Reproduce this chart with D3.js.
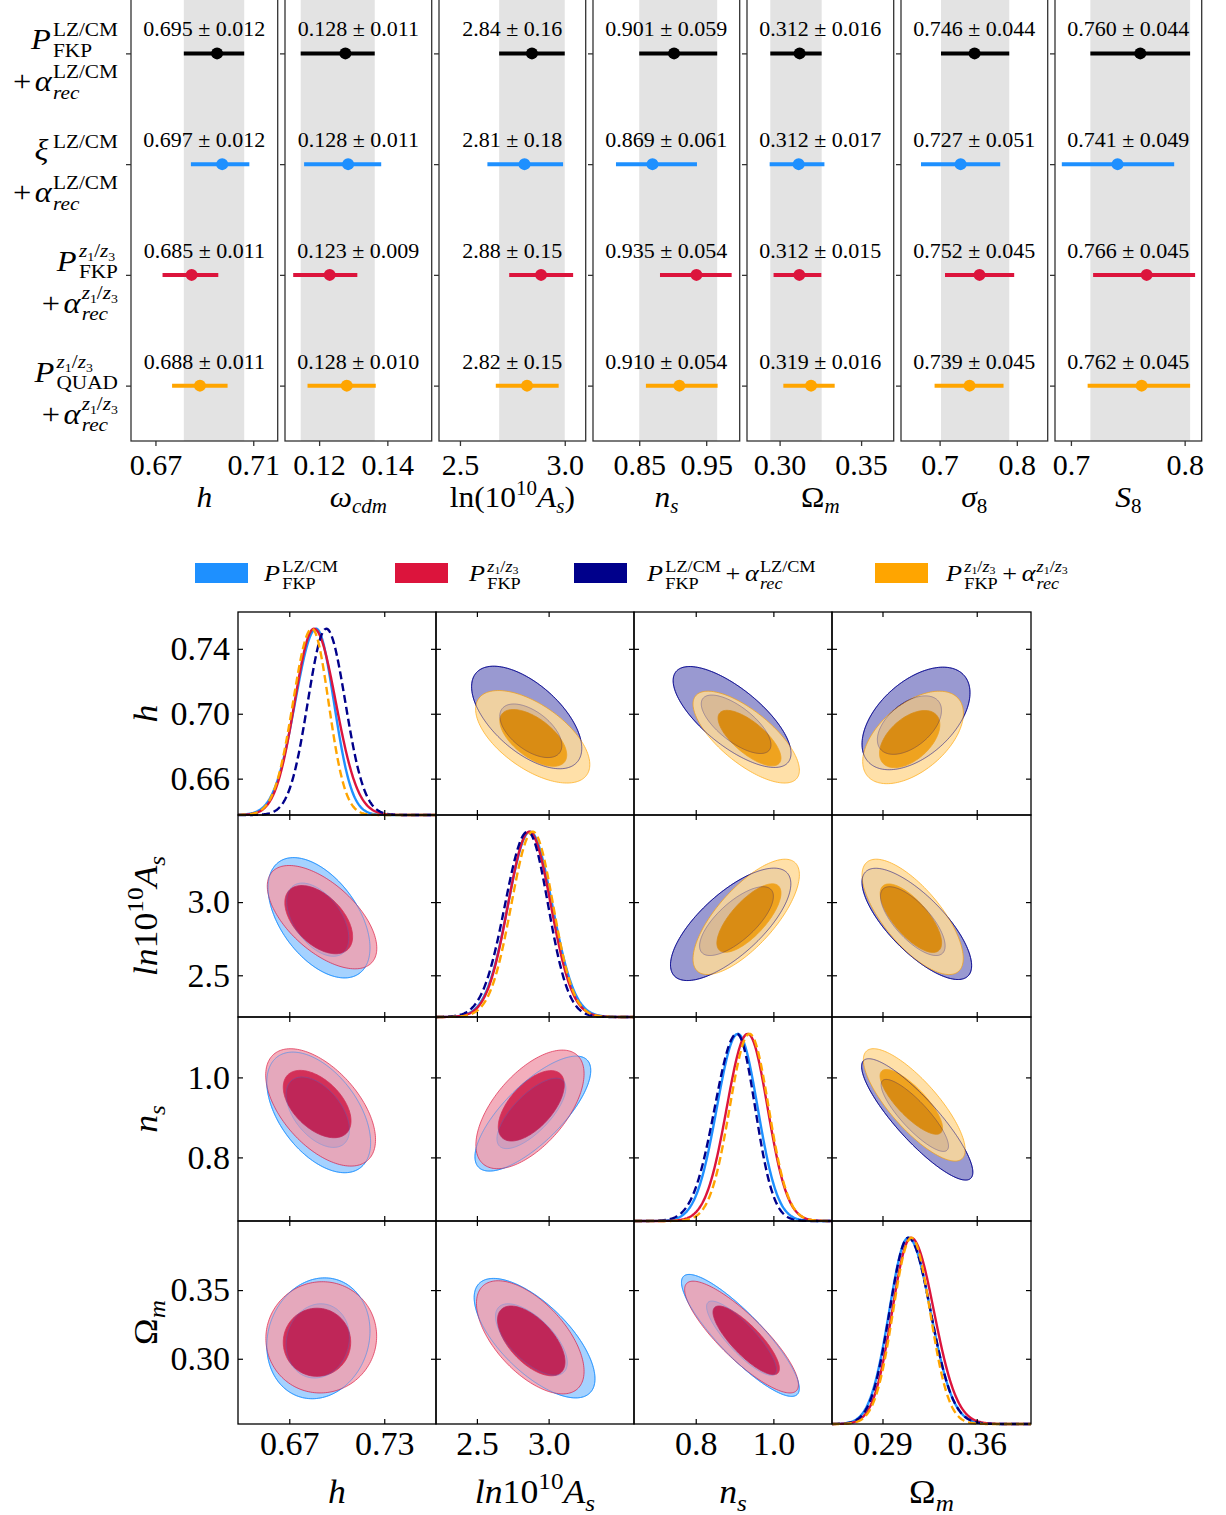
<!DOCTYPE html>
<html><head><meta charset="utf-8">
<script src="https://cdn.jsdelivr.net/npm/d3@7"></script>
<style>body{margin:0;background:#fff} svg{display:block}</style>
</head><body>
<svg id="c" width="1226" height="1515" xmlns="http://www.w3.org/2000/svg"></svg>
<script>
const SERIF = "'Liberation Serif','Times New Roman',Times,serif";

// ================= FOREST PLOT DATA =================
const forestParams = ['h', 'wcdm', 'lnAs', 'ns', 'Om', 's8', 'S8'];
const forestDomains = [[0.66, 0.72], [0.11, 0.153], [2.4, 3.1], [0.781, 1.0], [0.28, 0.37], [0.65, 0.84], [0.686, 0.815]];
const forestTicks = [[0.67, 0.71], [0.12, 0.14], [2.5, 3.0], [0.85, 0.95], [0.30, 0.35], [0.7, 0.8], [0.7, 0.8]];
const forestTickLabels = [['0.67', '0.71'], ['0.12', '0.14'], ['2.5', '3.0'], ['0.85', '0.95'], ['0.30', '0.35'], ['0.7', '0.8'], ['0.7', '0.8']];
const forestColors = ['#000000', '#1E90FF', '#DC143C', '#FFA500'];

// row 1: P_FKP^{LZ/CM} + alpha_rec^{LZ/CM}
const meanFKP_LZ_A = [0.6952, 0.1277, 2.8435, 0.902, 0.3123, 0.7453, 0.761];
const loFKP_LZ_A   = [0.6816, 0.1146, 2.687, 0.850, 0.2943, 0.7018, 0.7171];
const hiFKP_LZ_A   = [0.7063, 0.1363, 3.000, 0.9664, 0.3258, 0.7902, 0.8048];
const txtFKP_LZ_A  = ['0.695 ± 0.012', '0.128 ± 0.011', '2.84 ± 0.16', '0.901 ± 0.059', '0.312 ± 0.016', '0.746 ± 0.044', '0.760 ± 0.044'];
// row 2: xi^{LZ/CM} + alpha_rec^{LZ/CM}
const meanXI_LZ_A = [0.6973, 0.1285, 2.808, 0.8698, 0.3117, 0.7272, 0.741];
const loXI_LZ_A   = [0.6845, 0.1156, 2.631, 0.8153, 0.2939, 0.6759, 0.692];
const hiXI_LZ_A   = [0.7084, 0.1382, 2.992, 0.9362, 0.3275, 0.7785, 0.7908];
const txtXI_LZ_A  = ['0.697 ± 0.012', '0.128 ± 0.011', '2.81 ± 0.18', '0.869 ± 0.061', '0.312 ± 0.017', '0.727 ± 0.051', '0.741 ± 0.049'];
// row 3: P_FKP^{z1/z3} + alpha_rec^{z1/z3}
const meanFKP_Z13_A = [0.6848, 0.1231, 2.887, 0.9354, 0.3121, 0.7517, 0.7666];
const loFKP_Z13_A   = [0.6729, 0.1124, 2.735, 0.881, 0.2963, 0.707, 0.7195];
const hiFKP_Z13_A   = [0.6957, 0.1312, 3.04, 0.988, 0.3256, 0.7966, 0.8092];
const txtFKP_Z13_A  = ['0.685 ± 0.011', '0.123 ± 0.009', '2.88 ± 0.15', '0.935 ± 0.054', '0.312 ± 0.015', '0.752 ± 0.045', '0.766 ± 0.045'];
// row 4: P_QUAD^{z1/z3} + alpha_rec^{z1/z3}
const meanQUAD_Z13_A = [0.6882, 0.1281, 2.820, 0.9099, 0.3193, 0.7388, 0.7622];
const loQUAD_Z13_A   = [0.6768, 0.1166, 2.671, 0.860, 0.3023, 0.6935, 0.7147];
const hiQUAD_Z13_A   = [0.6995, 0.1366, 2.971, 0.967, 0.3338, 0.7828, 0.8048];
const txtQUAD_Z13_A  = ['0.688 ± 0.011', '0.128 ± 0.010', '2.82 ± 0.15', '0.910 ± 0.054', '0.319 ± 0.016', '0.739 ± 0.045', '0.762 ± 0.045'];

// ================= TRIANGLE PLOT DATA =================
const triParams = ['h', 'lnAs', 'ns', 'Om'];
const triDomains = [[0.6376, 0.7627], [2.215, 3.595], [0.641, 1.151], [0.2525, 0.4003]];
const triTicksX = [[0.67, 0.73], [2.5, 3.0], [0.8, 1.0], [0.29, 0.36]];
const triTickLabelsX = [['0.67', '0.73'], ['2.5', '3.0'], ['0.8', '1.0'], ['0.29', '0.36']];
const triTicksY = [[0.66, 0.70, 0.74], [2.5, 3.0], [0.8, 1.0], [0.30, 0.35]];
const triTickLabelsY = [['0.66', '0.70', '0.74'], ['2.5', '3.0'], ['0.8', '1.0'], ['0.30', '0.35']];

// 1D marginals: [param, peak, sigmaLeft, sigmaRight]
const post1D_FKP_LZ = [['h', 0.687, 0.0133, 0.0112], ['lnAs', 2.870, 0.153, 0.155], ['ns', 0.9085, 0.054, 0.051], ['Om', 0.3092, 0.0142, 0.0165]];
const post1D_FKP_Z13 = [['h', 0.6856, 0.0122, 0.0138], ['lnAs', 2.865, 0.148, 0.150], ['ns', 0.934, 0.054, 0.051], ['Om', 0.3112, 0.0140, 0.0170]];
const post1D_FKP_LZ_A = [['h', 0.6934, 0.0117, 0.0120], ['lnAs', 2.854, 0.158, 0.142], ['ns', 0.906, 0.057, 0.047], ['Om', 0.3092, 0.0139, 0.0165]];
const post1D_FKP_Z13_A = [['h', 0.6843, 0.0119, 0.0105], ['lnAs', 2.889, 0.149, 0.142], ['ns', 0.9385, 0.051, 0.0494], ['Om', 0.3115, 0.0136, 0.0138]];

// 2D contours: [xParam, yParam, centreX, centreY, halfWidthX, halfHeightY, correlation]
const c95_FKP_LZ = [
  ['h', 'lnAs', 0.6888, 2.893, 0.0322, 0.411, -0.5],
  ['h', 'ns', 0.6886, 0.9125, 0.0328, 0.1508, -0.5],
  ['h', 'Om', 0.6884, 0.3149, 0.0326, 0.044, 0.12],
  ['lnAs', 'ns', 2.89, 0.9095, 0.4035, 0.1437, 0.75],
  ['lnAs', 'Om', 2.902, 0.315, 0.421, 0.0435, -0.68],
  ['ns', 'Om', 0.915, 0.317, 0.1517, 0.0444, -0.87]];
const c68_FKP_LZ = [
  ['h', 'lnAs', 0.688, 2.88, 0.0196, 0.25, -0.5],
  ['h', 'ns', 0.688, 0.913, 0.020, 0.088, -0.5],
  ['h', 'Om', 0.688, 0.313, 0.020, 0.027, 0.1],
  ['lnAs', 'ns', 2.88, 0.91, 0.24, 0.088, 0.72],
  ['lnAs', 'Om', 2.88, 0.314, 0.25, 0.026, -0.65],
  ['ns', 'Om', 0.918, 0.315, 0.09, 0.027, -0.85]];
const c95_FKP_Z13 = [
  ['h', 'lnAs', 0.6907, 2.897, 0.0346, 0.353, -0.6],
  ['h', 'ns', 0.6898, 0.925, 0.0347, 0.1467, -0.55],
  ['h', 'Om', 0.6902, 0.3156, 0.035, 0.0405, 0.02],
  ['lnAs', 'ns', 2.87, 0.92, 0.377, 0.1483, 0.6],
  ['lnAs', 'Om', 2.872, 0.3156, 0.375, 0.0412, -0.6],
  ['ns', 'Om', 0.918, 0.3158, 0.1466, 0.0407, -0.85]];
const c68_FKP_Z13 = [
  ['h', 'lnAs', 0.6886, 2.880, 0.0214, 0.233, -0.5],
  ['h', 'ns', 0.6876, 0.9334, 0.0214, 0.0842, -0.5],
  ['h', 'Om', 0.6875, 0.312, 0.0213, 0.0248, 0.0],
  ['lnAs', 'ns', 2.879, 0.929, 0.23, 0.088, 0.6],
  ['lnAs', 'Om', 2.879, 0.313, 0.235, 0.0254, -0.6],
  ['ns', 'Om', 0.93, 0.3134, 0.0855, 0.025, -0.82]];
const c95_FKP_LZ_A = [
  ['lnAs', 'h', 2.847, 0.6977, 0.384, 0.0316, -0.6],
  ['ns', 'h', 0.8936, 0.698, 0.1518, 0.0311, -0.72],
  ['Om', 'h', 0.3149, 0.6971, 0.0401, 0.0316, 0.5],
  ['ns', 'lnAs', 0.890, 2.848, 0.155, 0.384, 0.72],
  ['Om', 'lnAs', 0.3155, 2.851, 0.0407, 0.38, -0.75],
  ['Om', 'ns', 0.3158, 0.895, 0.0413, 0.1517, -0.87]];
const c68_FKP_LZ_A = [
  ['lnAs', 'h', 2.876, 0.6895, 0.216, 0.0165, -0.55],
  ['ns', 'h', 0.904, 0.6935, 0.0897, 0.018, -0.7],
  ['Om', 'h', 0.310, 0.693, 0.0238, 0.018, 0.5],
  ['ns', 'lnAs', 0.905, 2.87, 0.095, 0.235, 0.72],
  ['Om', 'lnAs', 0.3125, 2.87, 0.024, 0.235, -0.72],
  ['Om', 'ns', 0.314, 0.905, 0.025, 0.09, -0.85]];
const c95_FKP_Z13_A = [
  ['lnAs', 'h', 2.889, 0.6858, 0.398, 0.0285, -0.6],
  ['ns', 'h', 0.930, 0.6856, 0.137, 0.0283, -0.72],
  ['Om', 'h', 0.3127, 0.6854, 0.0374, 0.0285, 0.52],
  ['ns', 'lnAs', 0.93, 2.899, 0.137, 0.394, 0.73],
  ['Om', 'lnAs', 0.3124, 2.899, 0.0376, 0.394, -0.72],
  ['Om', 'ns', 0.3136, 0.9313, 0.0378, 0.1405, -0.8]];
const c68_FKP_Z13_A = [
  ['lnAs', 'h', 2.893, 0.6851, 0.233, 0.0175, -0.6],
  ['ns', 'h', 0.9385, 0.685, 0.081, 0.0171, -0.72],
  ['Om', 'h', 0.3102, 0.6844, 0.0224, 0.0176, 0.5],
  ['ns', 'lnAs', 0.937, 2.891, 0.0825, 0.234, 0.73],
  ['Om', 'lnAs', 0.3111, 2.89, 0.0228, 0.234, -0.72],
  ['Om', 'ns', 0.3114, 0.9388, 0.0232, 0.081, -0.8]];

// ================= MATH TEXT HELPERS =================
function drawRun(g, x0, y0, pieces, defSize) {
  let cx = x0;
  for (const p of pieces) {
    if (p.gap) { cx += p.gap; continue; }
    const t = g.append('text').attr('x', cx).attr('y', y0 + (p.dy || 0))
      .attr('font-family', SERIF).attr('font-size', p.s || defSize)
      .attr('font-style', p.i ? 'italic' : 'normal').attr('fill', '#000').text(p.t);
    cx += t.node().getComputedTextLength();
  }
  return cx - x0;
}
function drawMath(parent, x, y, items, anchor, stretch, defSize) {
  const outer = parent.append('g');
  let cx = 0;
  for (const it of items) {
    if (it.gap) { cx += it.gap; continue; }
    if (it.sup || it.sub) {
      const w1 = it.sup ? drawRun(outer, cx, -it.up, it.sup, it.s) : 0;
      const w2 = it.sub ? drawRun(outer, cx, it.dn, it.sub, it.s) : 0;
      cx += Math.max(w1, w2);
    } else cx += drawRun(outer, cx, 0, [it], it.s || defSize);
  }
  const sx = stretch || 1;
  const w = cx * sx;
  const off = anchor === 'end' ? -w : anchor === 'middle' ? -w / 2 : 0;
  outer.attr('transform', `translate(${x + off},${y}) scale(${sx},1)`);
  return w;
}
function zz(s) {
  return [{ t: 'z', i: 1, s: s }, { t: '1', s: s * 0.65, dy: s * 0.18 }, { t: '/', s: s },
          { t: 'z', i: 1, s: s }, { t: '3', s: s * 0.65, dy: s * 0.18 }];
}

const svg = d3.select('#c');

// ================= FOREST PLOT =================
const forestRows = [
  { mean: meanFKP_LZ_A, lo: loFKP_LZ_A, hi: hiFKP_LZ_A, txt: txtFKP_LZ_A },
  { mean: meanXI_LZ_A, lo: loXI_LZ_A, hi: hiXI_LZ_A, txt: txtXI_LZ_A },
  { mean: meanFKP_Z13_A, lo: loFKP_Z13_A, hi: hiFKP_Z13_A, txt: txtFKP_Z13_A },
  { mean: meanQUAD_Z13_A, lo: loQUAD_Z13_A, hi: hiQUAD_Z13_A, txt: txtQUAD_Z13_A }];

const fX0 = 131, fW = 146.7, fStep = 154, fTop = -2, fBot = 441;
const fy = d3.scaleLinear().domain([-0.5, 3.5]).range([fTop, fBot]);

const forestAxisLabels = [
  [{ t: 'h', i: 1 }],
  [{ t: 'ω', i: 1 }, { sub: [{ t: 'cdm', i: 1 }], s: 20, dn: 6 }],
  [{ t: 'ln(10' }, { sup: [{ t: '10' }], s: 20, up: 12 }, { t: 'A', i: 1 }, { sub: [{ t: 's', i: 1 }], s: 20, dn: 6 }, { t: ')' }],
  [{ t: 'n', i: 1 }, { sub: [{ t: 's', i: 1 }], s: 20, dn: 6 }],
  [{ t: 'Ω' }, { sub: [{ t: 'm', i: 1 }], s: 20, dn: 6 }],
  [{ t: 'σ', i: 1 }, { sub: [{ t: '8' }], s: 20, dn: 6 }],
  [{ t: 'S', i: 1 }, { sub: [{ t: '8' }], s: 20, dn: 6 }]];

forestParams.forEach((p, j) => {
  const x0 = fX0 + j * fStep;
  const xs = d3.scaleLinear().domain(forestDomains[j]).range([x0, x0 + fW]);
  const g = svg.append('g');
  // grey band = reference (first row) interval
  g.append('rect').attr('x', xs(loFKP_LZ_A[j])).attr('y', fTop)
    .attr('width', xs(hiFKP_LZ_A[j]) - xs(loFKP_LZ_A[j])).attr('height', fBot - fTop)
    .attr('fill', '#e3e3e3');
  forestRows.forEach((r, k) => {
    const y = fy(k);
    g.append('line').attr('x1', xs(r.lo[j])).attr('x2', xs(r.hi[j])).attr('y1', y).attr('y2', y)
      .attr('stroke', forestColors[k]).attr('stroke-width', 4);
    g.append('circle').attr('cx', xs(r.mean[j])).attr('cy', y).attr('r', 6).attr('fill', forestColors[k]);
    drawMath(g, x0 + fW / 2, y - 17, [{ t: r.txt[j], s: 20 }], 'middle', 1.1, 20);
  });
  g.append('rect').attr('x', x0).attr('y', fTop).attr('width', fW).attr('height', fBot - fTop)
    .attr('fill', 'none').attr('stroke', '#333').attr('stroke-width', 1.3);
  const labs = forestTickLabels[j], tks = forestTicks[j];
  const ax = g.append('g').attr('transform', `translate(0,${fBot})`)
    .call(d3.axisBottom(xs).tickValues(tks).tickFormat(d => labs[tks.indexOf(d)]).tickSize(5).tickPadding(8));
  ax.select('.domain').remove();
  ax.selectAll('line').attr('stroke', '#333').attr('stroke-width', 1.3);
  ax.selectAll('text').attr('font-family', SERIF).attr('font-size', 30).attr('fill', '#000');
  const ay = g.append('g').attr('transform', `translate(${x0},0)`)
    .call(d3.axisLeft(fy).tickValues([0, 1, 2, 3]).tickFormat(() => '').tickSize(5));
  ay.select('.domain').remove();
  ay.selectAll('line').attr('stroke', '#333').attr('stroke-width', 1.3);
  drawMath(g, x0 + fW / 2, 507, forestAxisLabels[j], 'middle', 1.05, 30);
});

// forest row labels
const SM = 29, SS = 19, UP = 13.5, DN = 7.5;
const rowLabelLines = [
  [[{ t: 'P', i: 1, s: SM }, { gap: 2 }, { sup: [{ t: 'LZ/CM' }], sub: [{ t: 'FKP' }], s: SS, up: UP, dn: DN }],
   [{ t: '+', s: SM }, { gap: 3 }, { t: 'α', i: 1, s: SM }, { gap: 1 }, { sup: [{ t: 'LZ/CM' }], sub: [{ t: 'rec', i: 1 }], s: SS, up: UP, dn: DN }]],
  [[{ t: 'ξ', i: 1, s: SM }, { gap: 4 }, { sup: [{ t: 'LZ/CM' }], s: SS, up: 12 }],
   [{ t: '+', s: SM }, { gap: 3 }, { t: 'α', i: 1, s: SM }, { gap: 1 }, { sup: [{ t: 'LZ/CM' }], sub: [{ t: 'rec', i: 1 }], s: SS, up: UP, dn: DN }]],
  [[{ t: 'P', i: 1, s: SM }, { gap: 2 }, { sup: zz(SS), sub: [{ t: 'FKP' }], s: SS, up: UP, dn: DN }],
   [{ t: '+', s: SM }, { gap: 3 }, { t: 'α', i: 1, s: SM }, { gap: 1 }, { sup: zz(SS), sub: [{ t: 'rec', i: 1 }], s: SS, up: UP, dn: DN }]],
  [[{ t: 'P', i: 1, s: SM }, { gap: 2 }, { sup: zz(SS), sub: [{ t: 'QUAD' }], s: SS, up: UP, dn: DN }],
   [{ t: '+', s: SM }, { gap: 3 }, { t: 'α', i: 1, s: SM }, { gap: 1 }, { sup: zz(SS), sub: [{ t: 'rec', i: 1 }], s: SS, up: UP, dn: DN }]]];
rowLabelLines.forEach((lines, k) => {
  const y = fy(k);
  drawMath(svg, 118, y - 4, lines[0], 'end', 1.12, SM);
  drawMath(svg, 118, y + 38, lines[1], 'end', 1.12, SM);
});

// ================= LEGEND =================
const LM = 23, LS = 16, LUP = 9.5, LDN = 7.5;
const legendItems = [
  { color: '#1E90FF', px: 195, tx: 264, label: [{ t: 'P', i: 1, s: LM }, { gap: 2 }, { sup: [{ t: 'LZ/CM' }], sub: [{ t: 'FKP' }], s: LS, up: LUP, dn: LDN }] },
  { color: '#DC143C', px: 395, tx: 469, label: [{ t: 'P', i: 1, s: LM }, { gap: 2 }, { sup: zz(LS), sub: [{ t: 'FKP' }], s: LS, up: LUP, dn: LDN }] },
  { color: '#00008B', px: 574, tx: 647, label: [{ t: 'P', i: 1, s: LM }, { gap: 2 }, { sup: [{ t: 'LZ/CM' }], sub: [{ t: 'FKP' }], s: LS, up: LUP, dn: LDN },
      { gap: 4 }, { t: '+', s: LM }, { gap: 4 }, { t: 'α', i: 1, s: LM }, { gap: 1 }, { sup: [{ t: 'LZ/CM' }], sub: [{ t: 'rec', i: 1 }], s: LS, up: LUP, dn: LDN }] },
  { color: '#FFA500', px: 875, tx: 946, label: [{ t: 'P', i: 1, s: LM }, { gap: 2 }, { sup: zz(LS), sub: [{ t: 'FKP' }], s: LS, up: LUP, dn: LDN },
      { gap: 4 }, { t: '+', s: LM }, { gap: 4 }, { t: 'α', i: 1, s: LM }, { gap: 1 }, { sup: zz(LS), sub: [{ t: 'rec', i: 1 }], s: LS, up: LUP, dn: LDN }] }];
legendItems.forEach(it => {
  svg.append('rect').attr('x', it.px).attr('y', 563).attr('width', 53).attr('height', 20).attr('fill', it.color);
  drawMath(svg, it.tx, 581, it.label, 'start', 1.14, LM);
});

// ================= TRIANGLE PLOT =================
const colX = [238, 436, 634, 832, 1031];
const rowY = [612, 815, 1017, 1221, 1424];
const tx = triParams.map((p, i) => d3.scaleLinear().domain(triDomains[i]).range([colX[i], colX[i + 1]]));
const ty = triParams.map((p, i) => d3.scaleLinear().domain(triDomains[i]).range([rowY[i + 1], rowY[i]]));

function ellipse(c) {
  const pts = [];
  const [px, py, mx, my, hx, hy, rho] = c;
  const q = Math.sqrt(1 - rho * rho);
  for (let i = 0; i < 160; i++) {
    const t = 2 * Math.PI * i / 160, a = Math.cos(t), b = Math.sin(t);
    pts.push([mx + hx * a, my + hy * (rho * a + q * b)]);
  }
  return pts;
}

const triSeries2D = [
  { outer: c95_FKP_LZ, inner: c68_FKP_LZ, color: '#1E90FF', light: '#A5D2FF', op: 1 },
  { outer: c95_FKP_Z13, inner: c68_FKP_Z13, color: '#DC143C', light: '#F1A1B1', op: 0.85 },
  { outer: c95_FKP_LZ_A, inner: c68_FKP_LZ_A, color: '#00008B', light: '#9999D1', op: 1 },
  { outer: c95_FKP_Z13_A, inner: c68_FKP_Z13_A, color: '#FFA500', light: '#FFDB99', op: 0.85 }];

const contourLayer = svg.append('g');
const lineLayer = svg.append('g');
triSeries2D.forEach(s => {
  s.outer.forEach((c, n) => {
    const ci = triParams.indexOf(c[0]), ri = triParams.indexOf(c[1]);
    const line = d3.line().x(d => tx[ci](d[0])).y(d => ty[ri](d[1])).curve(d3.curveLinearClosed);
    const g = contourLayer.append('g').attr('opacity', s.op);
    g.append('path').attr('d', line(ellipse(c))).attr('fill', s.light).attr('stroke', s.color).attr('stroke-width', 0.8);
    g.append('path').attr('d', line(ellipse(s.inner[n]))).attr('fill', s.color).attr('stroke', s.color).attr('stroke-width', 0.8);
    if (s.op === 1) {
      lineLayer.append('path').attr('d', line(ellipse(c))).attr('fill', 'none').attr('stroke', s.color).attr('stroke-width', 0.8).attr('opacity', 0.55);
      lineLayer.append('path').attr('d', line(ellipse(s.inner[n]))).attr('fill', 'none').attr('stroke', s.color).attr('stroke-width', 0.7).attr('opacity', 0.35);
    }
  });
});

// diagonal 1D
const triSeries1D = [
  { data: post1D_FKP_LZ, color: '#1E90FF', dash: null },
  { data: post1D_FKP_Z13, color: '#DC143C', dash: null },
  { data: post1D_FKP_LZ_A, color: '#00008B', dash: '8,4' },
  { data: post1D_FKP_Z13_A, color: '#FFA500', dash: '8,4' }];
triParams.forEach((p, i) => {
  const yd = d3.scaleLinear().domain([0, 1.09]).range([rowY[i + 1], rowY[i]]);
  const xs = tx[i];
  const [a, b] = triDomains[i];
  triSeries1D.forEach(s => {
    const rec = s.data.find(d => d[0] === p);
    const [, pk, sl, sr] = rec;
    const pts = d3.range(0, 301).map(k => {
      const x = a + (b - a) * k / 300;
      const z = (x - pk) / (x < pk ? sl : sr);
      return [x, Math.exp(-0.5 * z * z)];
    });
    svg.append('path').attr('d', d3.line().x(d => xs(d[0])).y(d => yd(d[1]))(pts))
      .attr('fill', 'none').attr('stroke', s.color).attr('stroke-width', 2.4)
      .attr('stroke-dasharray', s.dash);
  });
});

// frames and ticks
function styleAx(ax, fs) {
  ax.select('.domain').remove();
  ax.selectAll('line').attr('stroke', '#000').attr('stroke-width', 1.2);
  ax.selectAll('text').attr('font-family', SERIF).attr('font-size', fs).attr('fill', '#000');
}
for (let r = 0; r < 4; r++) {
  for (let c = 0; c < 4; c++) {
    const g = svg.append('g');
    const xs = tx[c], ys = ty[r];
    const xt = triTicksX[c], yt = triTicksY[r];
    const xl = triTickLabelsX[c], yl = triTickLabelsY[r];
    const bottom = g.append('g').attr('transform', `translate(0,${rowY[r + 1]})`)
      .call(d3.axisBottom(xs).tickValues(xt).tickSize(-5).tickPadding(7)
        .tickFormat(r === 3 ? (d => xl[xt.indexOf(d)]) : () => ''));
    styleAx(bottom, 34);
    const top = g.append('g').attr('transform', `translate(0,${rowY[r]})`)
      .call(d3.axisTop(xs).tickValues(xt).tickSize(-5).tickFormat(() => ''));
    styleAx(top, 34);
    const left = g.append('g').attr('transform', `translate(${colX[c]},0)`)
      .call(d3.axisLeft(ys).tickValues(yt).tickSize(-5).tickPadding(8)
        .tickFormat(c === 0 ? (d => yl[yt.indexOf(d)]) : () => ''));
    styleAx(left, 34);
    const right = g.append('g').attr('transform', `translate(${colX[c + 1]},0)`)
      .call(d3.axisRight(ys).tickValues(yt).tickSize(-5).tickFormat(() => ''));
    styleAx(right, 34);
    g.append('rect').attr('x', colX[c]).attr('y', rowY[r]).attr('width', colX[c + 1] - colX[c])
      .attr('height', rowY[r + 1] - rowY[r]).attr('fill', 'none').attr('stroke', '#000').attr('stroke-width', 1.3);
  }
}

// axis labels
const TS = 24;
const triAxisLabels = [
  [{ t: 'h', i: 1 }],
  [{ t: 'ln', i: 1 }, { t: '10' }, { sup: [{ t: '10' }], s: TS, up: 14 }, { t: 'A', i: 1 }, { sub: [{ t: 's', i: 1 }], s: TS, dn: 8 }],
  [{ t: 'n', i: 1 }, { sub: [{ t: 's', i: 1 }], s: TS, dn: 8 }],
  [{ t: 'Ω' }, { sub: [{ t: 'm', i: 1 }], s: TS, dn: 8 }]];
triParams.forEach((p, i) => {
  drawMath(svg, (colX[i] + colX[i + 1]) / 2, 1503, triAxisLabels[i], 'middle', 1.05, 34);
  const rg = svg.append('g').attr('transform', `translate(157,${(rowY[i] + rowY[i + 1]) / 2}) rotate(-90)`);
  drawMath(rg, 0, 0, triAxisLabels[i], 'middle', 1.05, 34);
});
</script>
</body></html>
